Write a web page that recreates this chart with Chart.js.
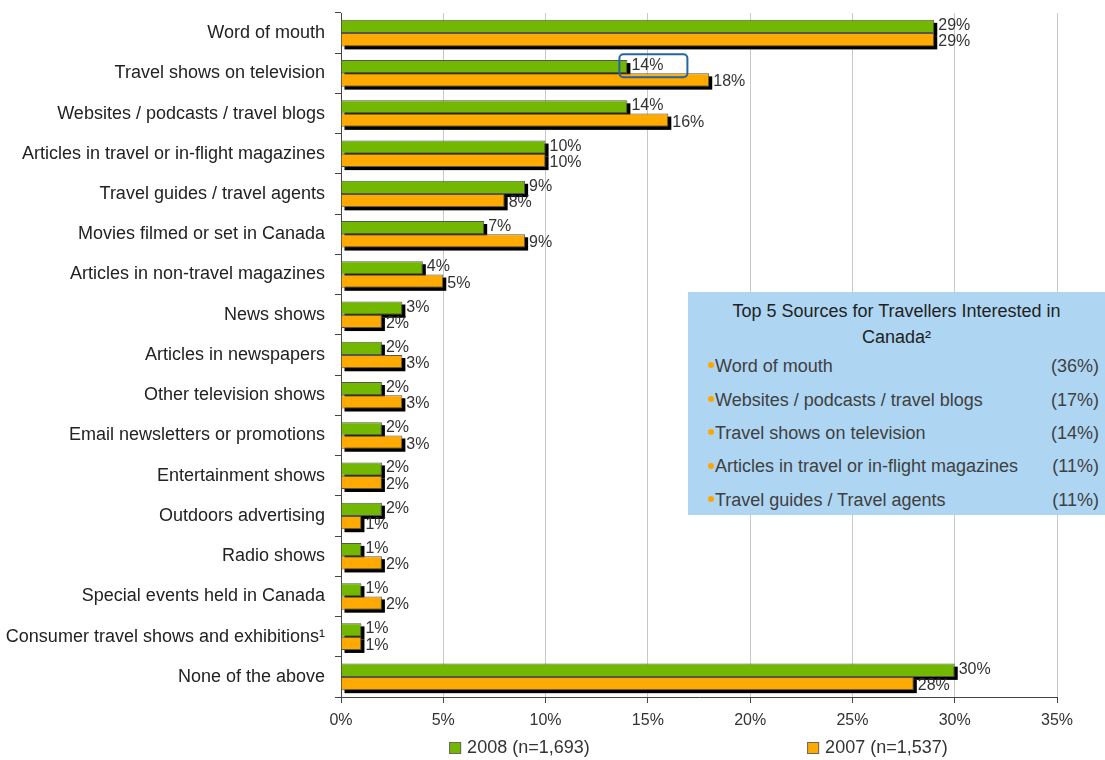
<!DOCTYPE html>
<html>
<head>
<meta charset="utf-8">
<script src="https://cdn.jsdelivr.net/npm/chart.js@4"></script>
<style>
    body { margin: 0; background: #fff; font-family: "Liberation Sans", Arial, sans-serif; }
    #wrap { position: relative; width: 1105px; height: 760px; }
    #infoBox {
        position: absolute; left: 688px; top: 292px; width: 417px; height: 223px;
        background: #AED6F3; color: #404040; box-sizing: border-box; padding-top: 6px;
    }
    #infoBox .title { text-align: center; font-size: 18px; line-height: 26px; color: #222; }
    #infoBox .row {
        display: flex; justify-content: space-between; align-items: center;
        height: 33.4px; font-size: 18px; padding: 0 6px 0 20px;
    }
    #infoBox .row span.name::before {
        content: ''; display: inline-block; width: 6px; height: 6px; border-radius: 50%;
        background: #FFA500; margin-right: 1px; vertical-align: middle; position: relative; top: -2px;
    }
</style>
</head>
<body>
<div id="wrap">
    <canvas id="sourcesChart" width="1105" height="760"></canvas>
    <div id="infoBox"></div>
</div>
<script>
const categories = [
    'Word of mouth',
    'Travel shows on television',
    'Websites / podcasts / travel blogs',
    'Articles in travel or in-flight magazines',
    'Travel guides / travel agents',
    'Movies filmed or set in Canada',
    'Articles in non-travel magazines',
    'News shows',
    'Articles in newspapers',
    'Other television shows',
    'Email newsletters or promotions',
    'Entertainment shows',
    'Outdoors advertising',
    'Radio shows',
    'Special events held in Canada',
    'Consumer travel shows and exhibitions\u00B9',
    'None of the above'
];
const values2008 = [29, 14, 14, 10, 9, 7, 4, 3, 2, 2, 2, 2, 2, 1, 1, 1, 30];
const values2007 = [29, 18, 16, 10, 8, 9, 5, 2, 3, 3, 3, 2, 1, 2, 2, 1, 28];
const seriesLabels = ['2008 (n=1,693)', '2007 (n=1,537)'];
const xTickValues = [0, 5, 10, 15, 20, 25, 30, 35];

const boxTitle = ['Top 5 Sources for Travellers Interested in', 'Canada\u00B2'];
const topSources = [
    'Word of mouth',
    'Websites / podcasts / travel blogs',
    'Travel shows on television',
    'Articles in travel or in-flight magazines',
    'Travel guides / Travel agents'
];
const topShares = ['(36%)', '(17%)', '(14%)', '(11%)', '(11%)'];

const GREEN = '#72B800';
const ORANGE = '#FFAA00';

function buildInfoBox() {
    const box = document.getElementById('infoBox');
    let html = `<div class="title">${boxTitle.join('<br>')}</div>`;
    topSources.forEach((name, i) => {
        html += `<div class="row"><span class="name">${name}</span><span>${topShares[i]}</span></div>`;
    });
    box.innerHTML = html;
}

// black drop shadow behind every bar, drawn before the bars themselves
const barShadow = {
    id: 'barShadow',
    beforeDatasetsDraw(chart) {
        const ctx = chart.ctx;
        ctx.save();
        ctx.fillStyle = '#000';
        chart.data.datasets.forEach((ds, i) => {
            chart.getDatasetMeta(i).data.forEach(bar => {
                const h = bar.height;
                ctx.fillRect(bar.base + 3, bar.y - h / 2 + 3, bar.x - bar.base, h);
            });
        });
        ctx.restore();
    }
};

const valueLabels = {
    id: 'valueLabels',
    afterDatasetsDraw(chart) {
        const ctx = chart.ctx;
        ctx.save();
        ctx.font = '16px "Liberation Sans", Arial, sans-serif';
        ctx.fillStyle = '#333';
        ctx.textAlign = 'left';
        ctx.textBaseline = 'middle';
        chart.data.datasets.forEach((ds, i) => {
            chart.getDatasetMeta(i).data.forEach((bar, j) => {
                ctx.fillText(ds.data[j] + '%', bar.x + 4, bar.y + (i === 0 ? -1 : 2));
            });
        });

        // blue callout round the 2008 value for travel shows on television
        const hl = chart.getDatasetMeta(0).data[1];
        ctx.strokeStyle = '#2464A4';
        ctx.lineWidth = 2;
        ctx.beginPath();
        ctx.roundRect(hl.x - 8, hl.y - 12.5, 68, 23, 4);
        ctx.stroke();
        ctx.restore();
    }
};

const bottomLegend = {
    id: 'bottomLegend',
    afterDraw(chart) {
        const ctx = chart.ctx;
        const area = chart.chartArea;
        const y = 748;
        ctx.save();
        ctx.font = '18px "Liberation Sans", Arial, sans-serif';
        ctx.textAlign = 'left';
        ctx.textBaseline = 'middle';
        chart.data.datasets.forEach((ds, i) => {
            const x = area.left + area.width * (0.151 + 0.5 * i);
            ctx.fillStyle = ds.backgroundColor;
            ctx.fillRect(x, y - 6, 12, 12);
            ctx.strokeStyle = '#666';
            ctx.lineWidth = 1;
            ctx.strokeRect(x + 0.5, y - 5.5, 11, 11);
            ctx.fillStyle = '#333';
            ctx.fillText(ds.label, x + 18, y);
        });
        ctx.restore();
    }
};

function drawChart() {
    const ctx = document.getElementById('sourcesChart').getContext('2d');

    window.sourcesChart = new Chart(ctx, {
        type: 'bar',
        data: {
            labels: categories,
            datasets: [{
                label: seriesLabels[0],
                data: values2008,
                backgroundColor: GREEN,
                borderColor: '#555',
                borderWidth: 1,
                categoryPercentage: 0.66,
                barPercentage: 1
            }, {
                label: seriesLabels[1],
                data: values2007,
                backgroundColor: ORANGE,
                borderColor: '#555',
                borderWidth: 1,
                categoryPercentage: 0.66,
                barPercentage: 1
            }]
        },
        options: {
            indexAxis: 'y',
            responsive: false,
            animation: false,
            layout: {
                padding: { top: 13, right: 48, bottom: 23, left: 0 }
            },
            plugins: {
                legend: { display: false },
                tooltip: { enabled: false }
            },
            scales: {
                x: {
                    min: 0,
                    max: 35,
                    afterBuildTicks: scale => {
                        scale.ticks = xTickValues.map(v => ({ value: v }));
                    },
                    afterFit: scale => {
                        scale.height = 40;
                        scale.paddingLeft = 0;
                        scale.paddingRight = 0;
                    },
                    grid: {
                        color: '#C8C8C8',
                        tickColor: '#444',
                        tickLength: 6
                    },
                    border: { color: '#444', width: 1 },
                    ticks: {
                        color: '#333',
                        padding: 8,
                        font: { family: '"Liberation Sans", Arial, sans-serif', size: 16 },
                        callback: value => value + '%'
                    }
                },
                y: {
                    afterFit: scale => {
                        scale.width = 341;
                        scale.paddingTop = 0;
                        scale.paddingBottom = 0;
                    },
                    grid: {
                        offset: true,
                        drawOnChartArea: false,
                        tickColor: '#444',
                        tickLength: 6
                    },
                    border: { color: '#444', width: 1 },
                    ticks: {
                        color: '#222',
                        padding: 10,
                        autoSkip: false,
                        font: { family: '"Liberation Sans", Arial, sans-serif', size: 18 }
                    }
                }
            }
        },
        plugins: [barShadow, valueLabels, bottomLegend]
    });
}

document.addEventListener('DOMContentLoaded', () => {
    buildInfoBox();
    drawChart();
});
</script>
</body>
</html>
